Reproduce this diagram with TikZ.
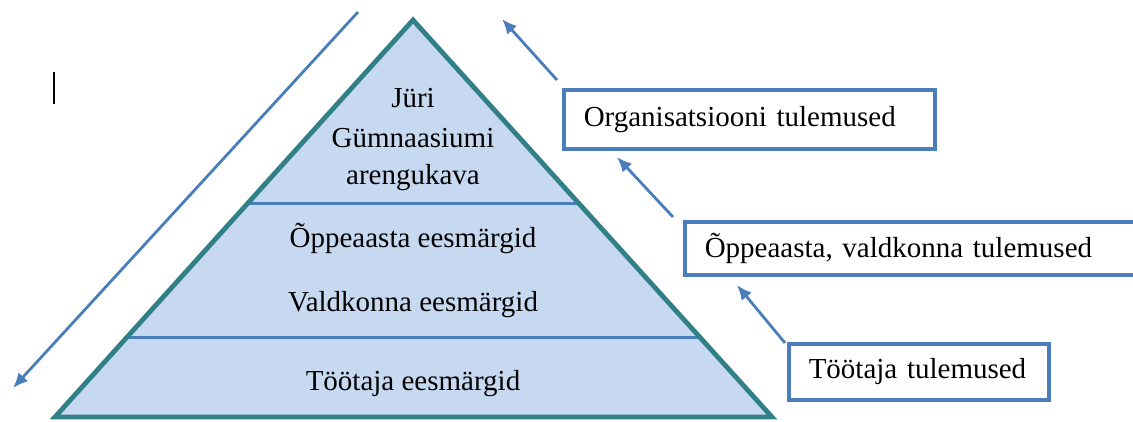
\documentclass[tikz,border=0pt]{standalone}
\usepackage{fontspec}
\setmainfont{Liberation Serif}
\usepackage{tikz}
\usetikzlibrary{positioning}
\usetikzlibrary{calc}
\usetikzlibrary{arrows.meta}
\definecolor{pyrfill}{RGB}{198,217,241}
\definecolor{pyredge}{RGB}{49,128,135}
\definecolor{arrblue}{RGB}{74,126,187}

\begin{document}
\begin{tikzpicture}[x=1pt,y=-1pt,
        lvl/.style={anchor=base,font=\fontsize{29}{35}\selectfont},
        resbox/.style={draw=arrblue,line width=3.5pt,anchor=north west,inner xsep=20pt,inner ysep=0pt,align=left,font=\fontsize{29}{35}\selectfont},
        upar/.style={arrblue,line width=2.8pt,-{Latex[length=15pt,width=13pt]}}]
        \useasboundingbox (0,0) rectangle (1133,421);
        \clip (0,0) rectangle (1133,421);
        \coordinate (apex) at (413,20);
        \coordinate (bl) at (55,417);
        \coordinate (br) at (772,417);
        \coordinate (d1l) at ($(apex)!0.461!(bl)$);
        \coordinate (d1r) at ($(apex)!0.461!(br)$);
        \coordinate (d2l) at ($(apex)!0.7985!(bl)$);
        \coordinate (d2r) at ($(apex)!0.7985!(br)$);
        \fill[pyrfill] (apex) -- (bl) -- (br) -- cycle;
        \draw[arrblue,line width=3pt] (d1l) -- (d1r);
        \draw[arrblue,line width=3pt] (d2l) -- (d2r);
        \draw[pyredge,line width=4.8pt] (apex) -- (bl) -- (br) -- cycle;
        \foreach \n/\y/\t in {juri/107/J\"uri, gymn/147/G\"umnaasiumi, areng/184/arengukava,
            oppe/247/\~Oppeaasta eesm\"argid, vald/311/Valdkonna eesm\"argid, tootaja/390/T\"o\"otaja eesm\"argid}
        {
            \node[lvl] (\n) at (413,\y) {\t};
        }
        % text cursor
        \coordinate (cur1) at (54,72);
        \coordinate (cur2) at (54,104);
        \draw[black,line width=1.4pt] (cur1) -- (cur2);
        % down arrow
        \coordinate (dtop) at (358,12);
        \coordinate (dbot) at (13,388);
        \draw[upar] (dtop) -- (dbot);
        % result boxes
        \node[resbox,text width=331pt,minimum height=59pt] (org) at (562,88) {Organisatsiooni tulemused};
        \node[resbox,text width=420pt,minimum height=53pt] (aasta) at (683,220) {\~Oppeaasta, valdkonna tulemused};
        \node[resbox,text width=220pt,minimum height=56pt] (tulem) at (787,342) {T\"o\"otaja tulemused};
        \coordinate (a1s) at ($(org.north west)+(-5,-8)$);
        \coordinate (a1e) at (502,19);
        \coordinate (a2s) at ($(aasta.north west)+(-10,-3)$);
        \coordinate (a2e) at (617,157);
        \coordinate (a3s) at ($(tulem.north west)+(-2,1)$);
        \coordinate (a3e) at (737,285);
        \draw[upar] (a1s) -- (a1e);
        \draw[upar] (a2s) -- (a2e);
        \draw[upar] (a3s) -- (a3e);
    \end{tikzpicture}
\end{document}
